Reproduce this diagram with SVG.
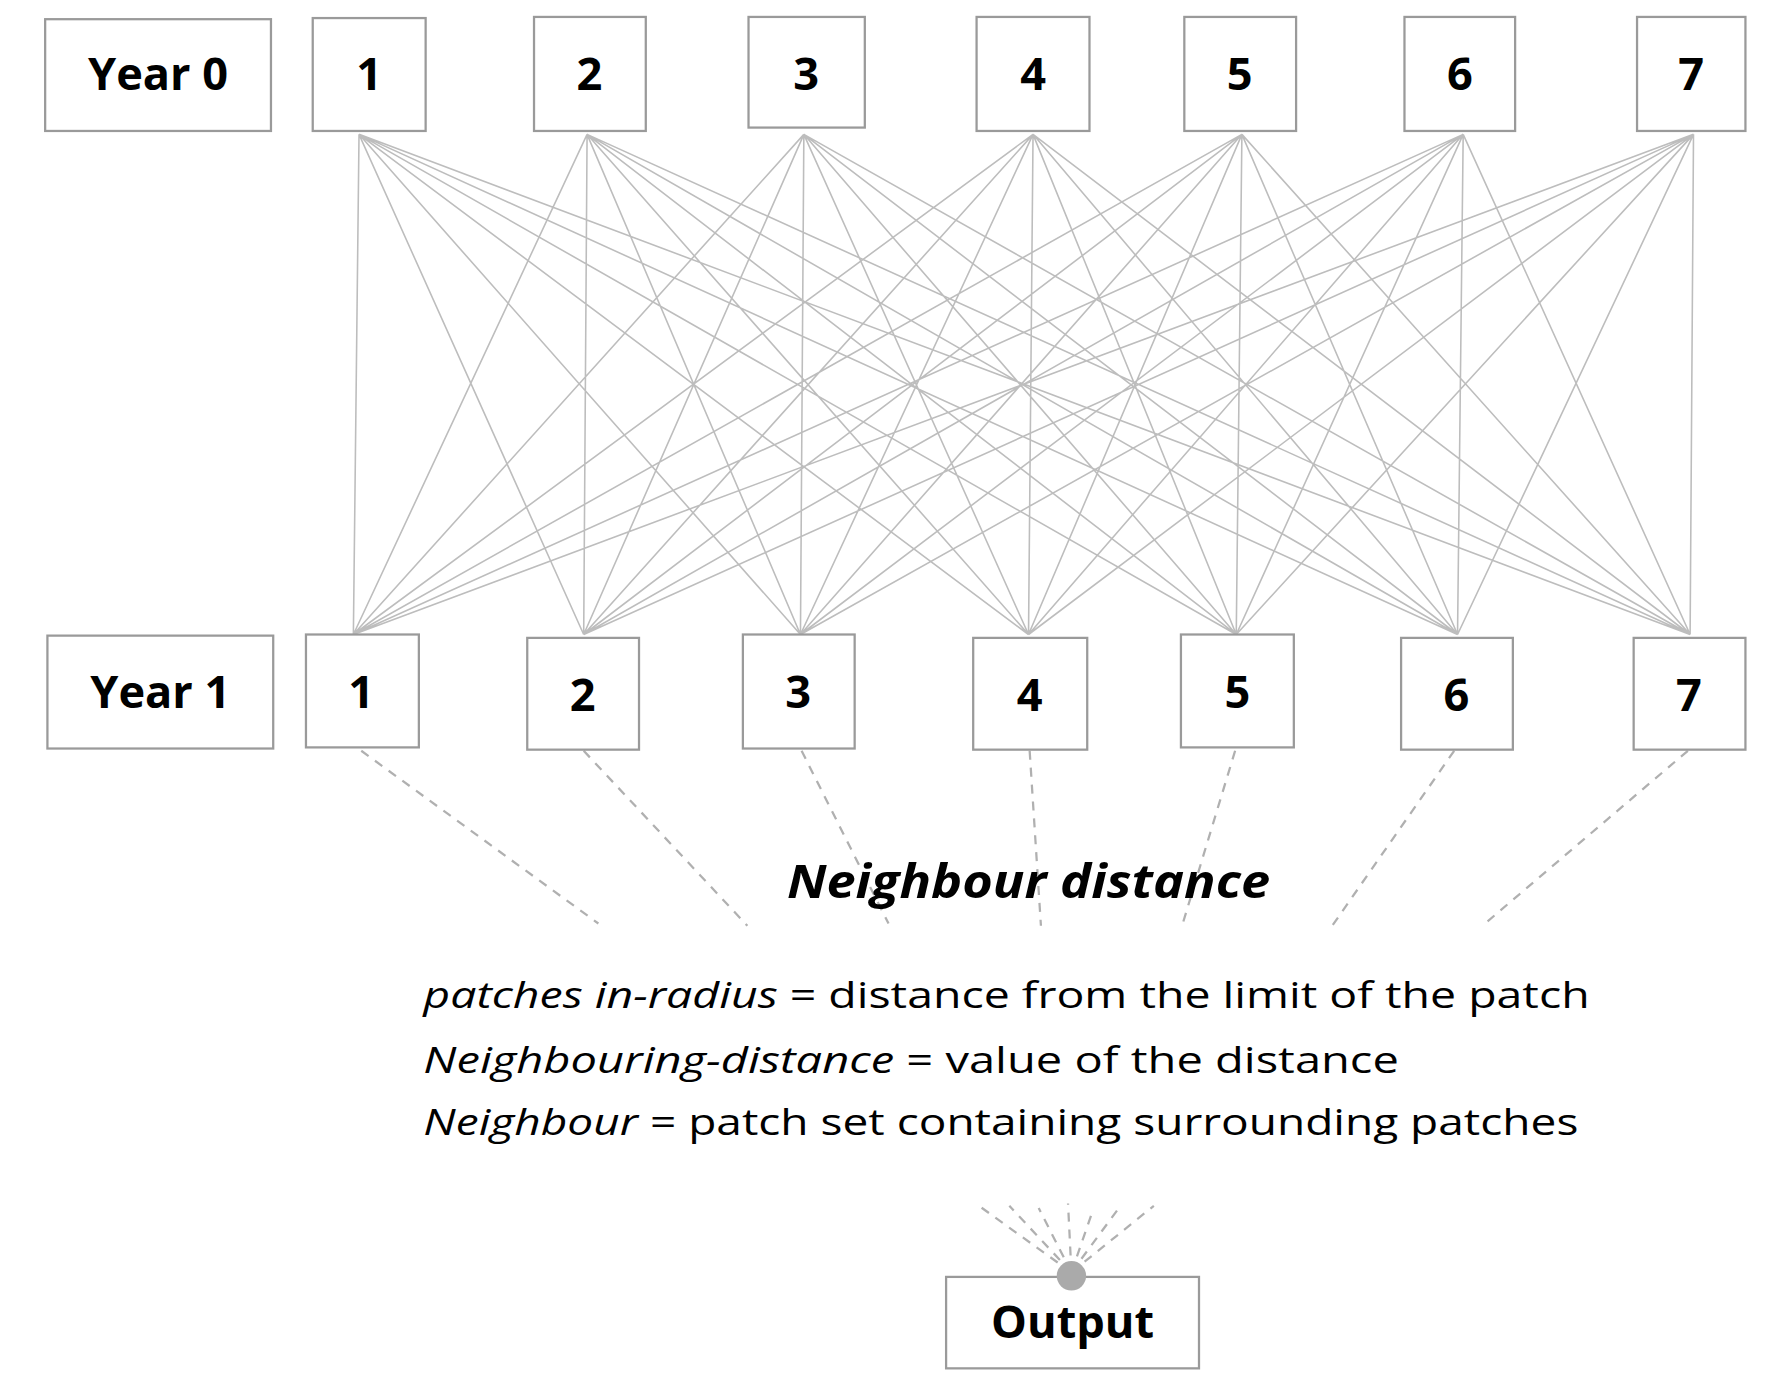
<svg xmlns="http://www.w3.org/2000/svg" width="1771" height="1390" viewBox="0 0 1771 1390">
<style>
.box{fill:#fff;stroke:#9a9a9a;stroke-width:2}
.lbl{font-family:"Open Sans","Liberation Sans",sans-serif;font-weight:bold;font-size:40px;fill:#000;text-anchor:middle}
.c{stroke:#bdbdbd;stroke-width:1.4;fill:none}
.d{stroke:#b0b0b0;stroke-width:2;stroke-dasharray:8 7;fill:none}
.t{font-family:"Open Sans","Liberation Sans",sans-serif;font-size:33px;fill:#000}
</style>
<rect width="1771" height="1390" fill="#fff"/>
<g transform="scale(1.129)">
<g id="connectors">
<g id="full">
<path class="c" d="M318,119L313,562M318,119L517,562M318,119L709,562M318,119L911,562M318,119L1095,562M318,119L1291,562M318,119L1497,562
M520,119L313,562M520,119L517,562M520,119L709,562M520,119L911,562M520,119L1095,562M520,119L1291,562M520,119L1497,562
M712,119L313,562M712,119L517,562M712,119L709,562M712,119L911,562M712,119L1095,562M712,119L1291,562M712,119L1497,562
M915,119L313,562M915,119L517,562M915,119L709,562M915,119L911,562M915,119L1095,562M915,119L1291,562M915,119L1497,562
M1100,119L313,562M1100,119L517,562M1100,119L709,562M1100,119L911,562M1100,119L1095,562M1100,119L1291,562M1100,119L1497,562
M1296,119L313,562M1296,119L517,562M1296,119L709,562M1296,119L911,562M1296,119L1095,562M1296,119L1291,562M1296,119L1497,562
M1500,119L313,562M1500,119L517,562M1500,119L709,562M1500,119L911,562M1500,119L1095,562M1500,119L1291,562M1500,119L1497,562"/>
</g>
<path class="d" d="M320,665L530,818M517,665L662,820M710,665L787,818M912,665L922,820M1094,665L1047,820M1288,665L1180,820M1495,665L1313,820"/>
<path class="d" stroke-width="1.8" d="M949,1127L867,1068M949,1127L894,1068M949,1127L920,1070M949,1127L946,1066M949,1127L968,1072M949,1127L991,1070M949,1127L1022,1068"/>
</g>
<g id="year0"><rect class="box" x="40" y="17" width="200" height="99"/><text class="lbl" x="140" y="80">Year 0</text></g>
<g id="t1"><rect class="box" x="277" y="16" width="100" height="100"/><text class="lbl" x="327" y="80">1</text></g>
<g id="t2"><rect class="box" x="473" y="15" width="99" height="101"/><text class="lbl" x="522" y="80">2</text></g>
<g id="t3"><rect class="box" x="663" y="15" width="103" height="98"/><text class="lbl" x="714" y="80">3</text></g>
<g id="t4"><rect class="box" x="865" y="15" width="100" height="101"/><text class="lbl" x="915" y="80">4</text></g>
<g id="t5"><rect class="box" x="1049" y="15" width="99" height="101"/><text class="lbl" x="1098" y="80">5</text></g>
<g id="t6"><rect class="box" x="1244" y="15" width="98" height="101"/><text class="lbl" x="1293" y="80">6</text></g>
<g id="t7"><rect class="box" x="1450" y="15" width="96" height="101"/><text class="lbl" x="1498" y="80">7</text></g>
<g id="year1"><rect class="box" x="42" y="563" width="200" height="100"/><text class="lbl" x="142" y="627">Year 1</text></g>
<g id="b1"><rect class="box" x="271" y="562" width="100" height="100"/><text class="lbl" x="320" y="627">1</text></g>
<g id="b2"><rect class="box" x="467" y="565" width="99" height="99"/><text class="lbl" x="516" y="630">2</text></g>
<g id="b3"><rect class="box" x="658" y="562" width="99" height="101"/><text class="lbl" x="707" y="627">3</text></g>
<g id="b4"><rect class="box" x="862" y="565" width="101" height="99"/><text class="lbl" x="912" y="630">4</text></g>
<g id="b5"><rect class="box" x="1046" y="562" width="100" height="100"/><text class="lbl" x="1096" y="627">5</text></g>
<g id="b6"><rect class="box" x="1241" y="565" width="99" height="99"/><text class="lbl" x="1290" y="630">6</text></g>
<g id="b7"><rect class="box" x="1447" y="565" width="99" height="99"/><text class="lbl" x="1496" y="630">7</text></g>
<g id="label"><text x="697" y="795" textLength="428" lengthAdjust="spacingAndGlyphs" font-family="'Open Sans','Liberation Sans',sans-serif" font-weight="bold" font-style="italic" font-size="42">Neighbour  distance</text></g>
<g id="desc" class="t">
<text class="t" x="375" y="893" textLength="1033" lengthAdjust="spacingAndGlyphs"><tspan font-style="italic">patches in-radius</tspan> = distance from the limit of the patch</text>
<text class="t" x="375" y="950" textLength="864" lengthAdjust="spacingAndGlyphs"><tspan font-style="italic">Neighbouring-distance</tspan> = value of the distance</text>
<text class="t" x="375" y="1005" textLength="1023" lengthAdjust="spacingAndGlyphs"><tspan font-style="italic">Neighbour</tspan> = patch set containing surrounding patches</text>
</g>
<g id="output"><rect class="box" x="838" y="1131" width="224" height="81"/><circle cx="949" cy="1130" r="13" fill="#aaa"/><text class="lbl" x="950" y="1185">Output</text></g>
</g>
</svg>
